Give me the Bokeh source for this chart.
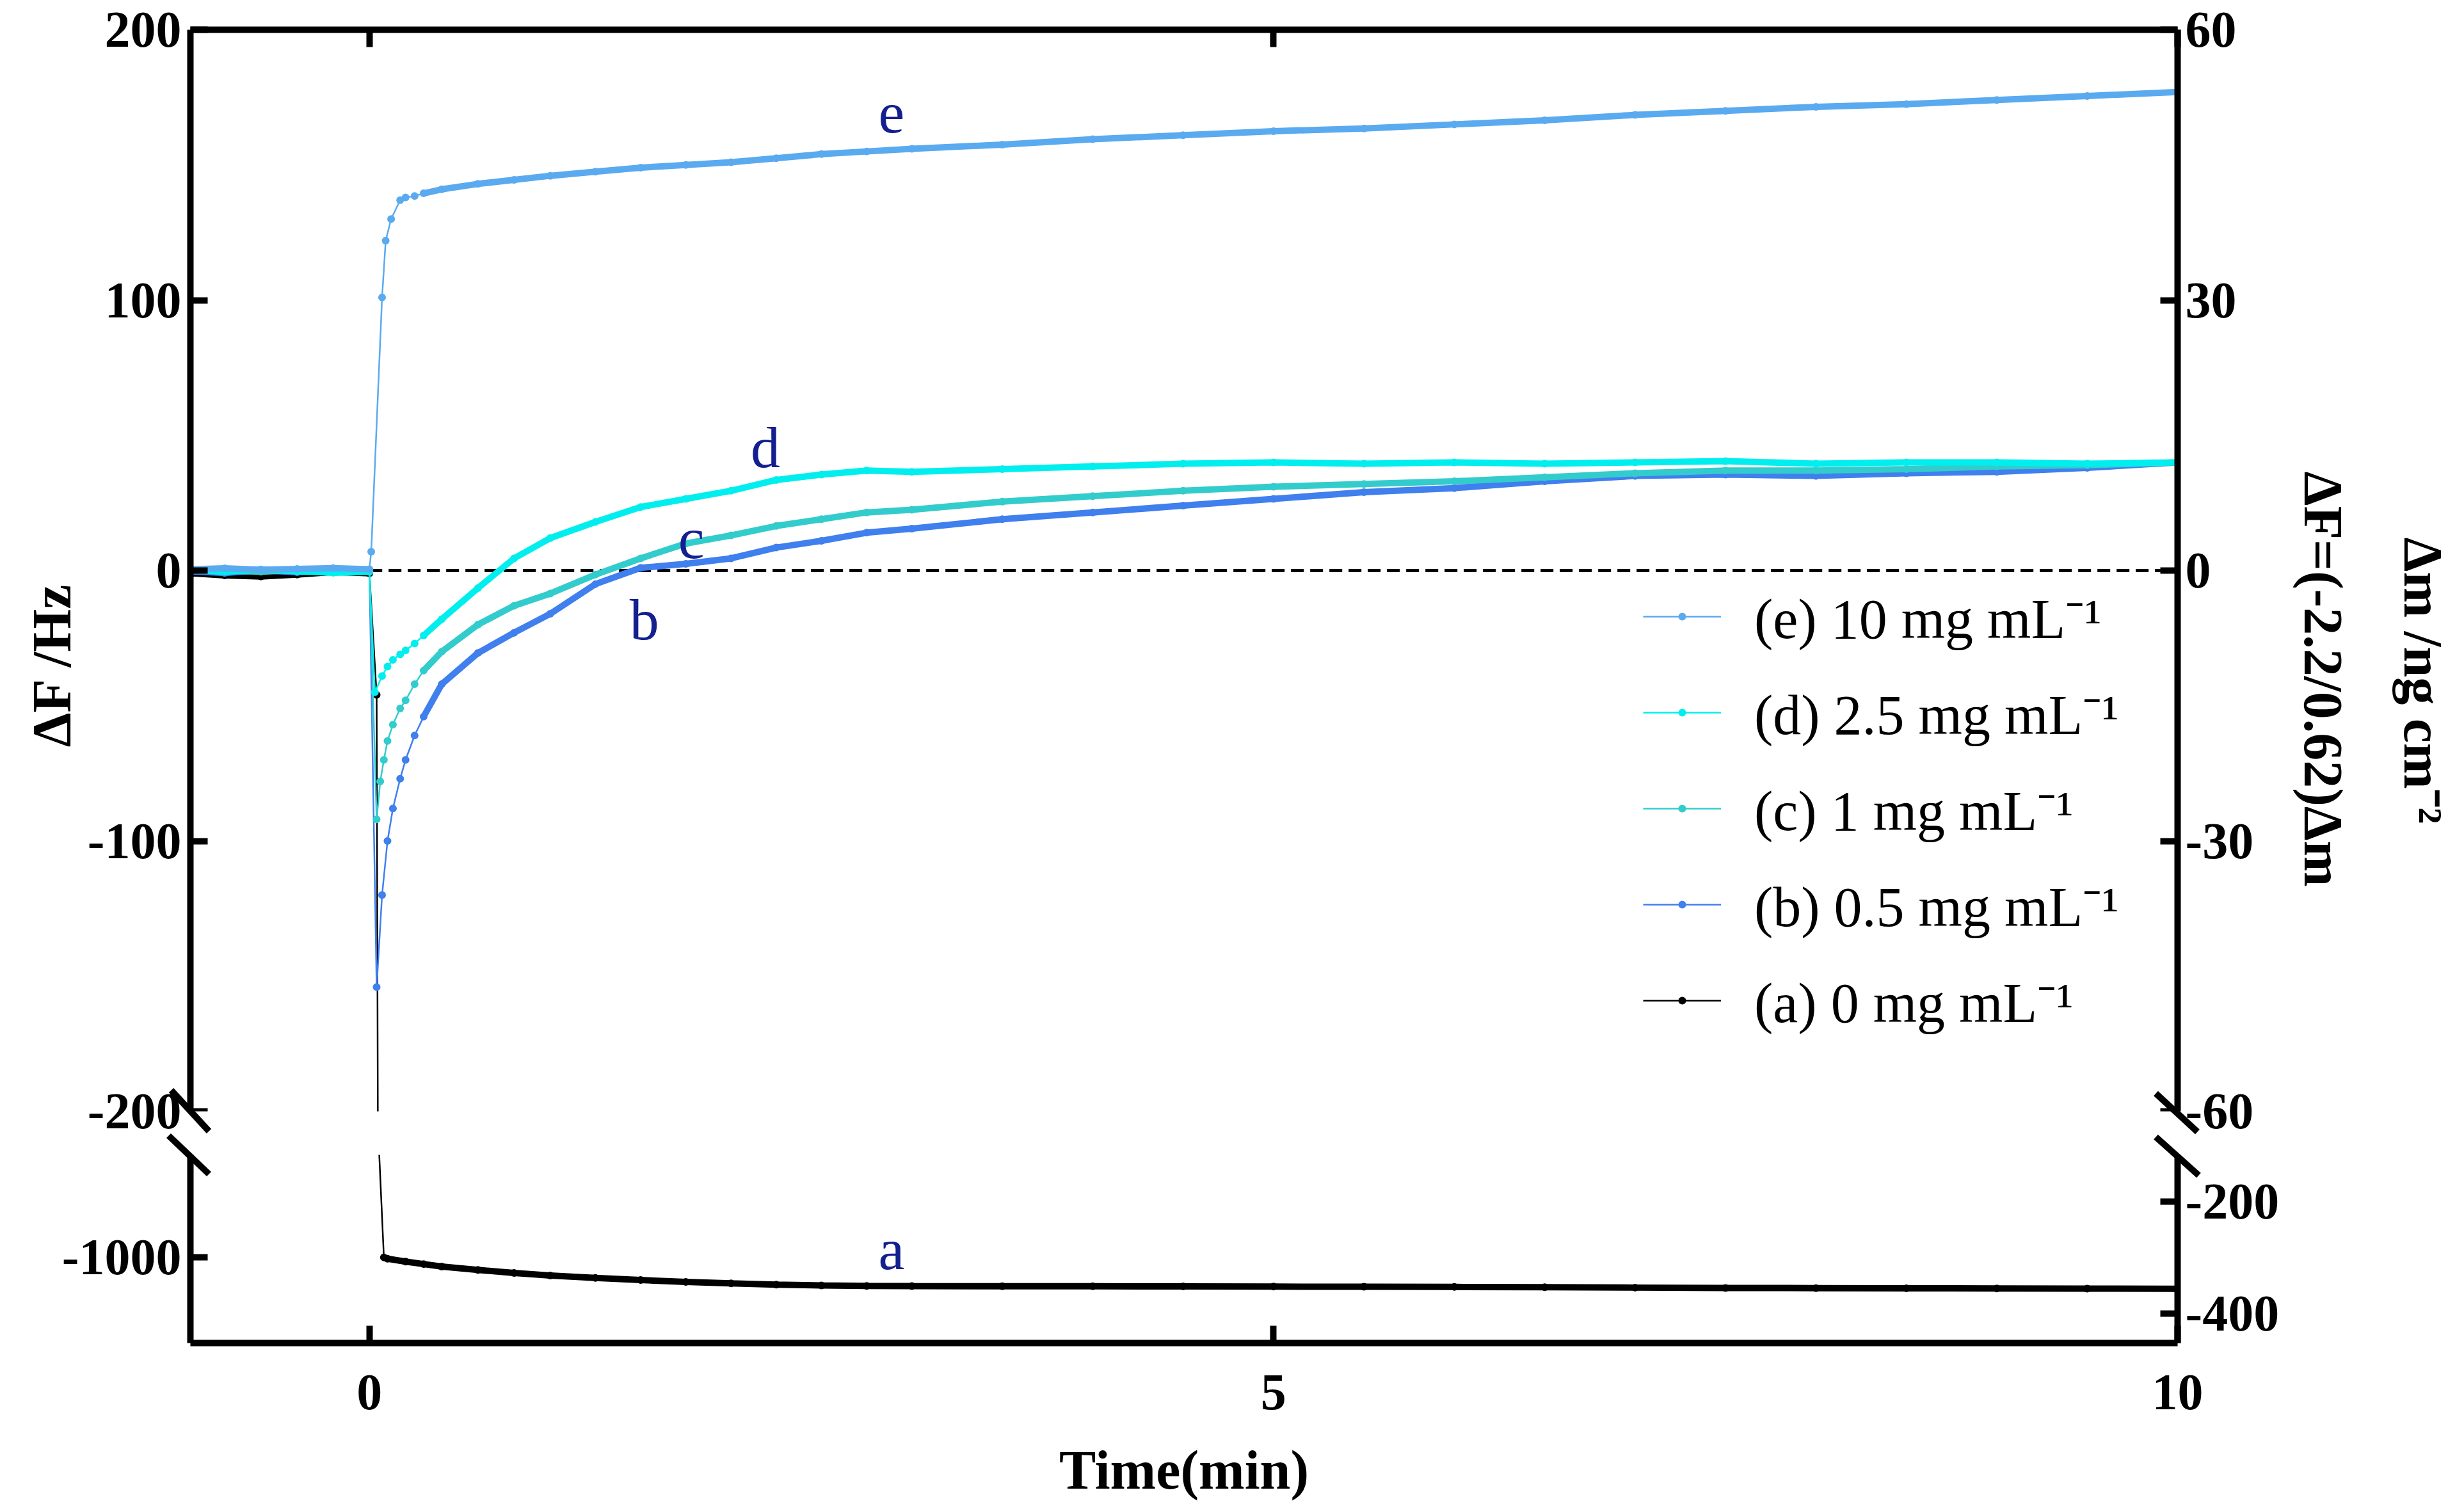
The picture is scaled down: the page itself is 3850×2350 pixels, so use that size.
import numpy as np
from bokeh.plotting import figure
from bokeh.models import (Range1d, LinearAxis, FixedTicker, Legend, LegendItem, Label,
                          Title, CustomJSTickFormatter, BoxAnnotation)
from bokeh.layouts import column
from bokeh.embed import file_html
from bokeh.resources import INLINE

# ---------------- data ----------------
t_base = [-0.98, -0.8, -0.6, -0.4, -0.2, 0.0]
t_late = [0.4, 0.6, 0.8, 1.0, 1.25, 1.5, 1.75, 2.0, 2.25, 2.5, 2.75, 3.0, 3.5,
          4.0, 4.5, 5.0, 5.5, 6.0, 6.5, 7.0, 7.5, 8.0, 8.5, 9.0, 9.5, 10.0]

e_base = [0.5, 0.8, 0.3, 0.6, 0.9, 0.5]
e_t_early = [0.01, 0.07, 0.09, 0.12, 0.17, 0.2, 0.25, 0.3]
e_early = [7, 101, 122, 130, 137, 138, 138.5, 139.5]
e_late = [141, 143, 144.5, 146, 147.5, 149, 150, 151, 152.5, 154, 155, 156, 157.5,
          159.5, 161, 162.5, 163.5, 165, 166.5, 168.5, 170, 171.5, 172.5, 174, 175.5, 177]

d_base = [0.2, -0.5, 0.4, -0.3, -0.8, -0.5]
d_t_early = [0.03, 0.07, 0.1, 0.13, 0.17, 0.2, 0.25, 0.3]
d_early = [-45, -39, -35.5, -33, -31, -29.5, -27, -24]
d_late = [-18, -6.5, 4.5, 12, 18, 23.5, 26.5, 29.5, 33.5, 35.5, 37, 36.5, 37.5,
          38.5, 39.5, 40, 39.5, 40, 39.5, 40, 40.5, 39.5, 40, 40, 39.5, 40]

c_base = [0.3, 0.0, -0.4, 0.2, -0.6, -0.2]
c_t_early = [0.04, 0.06, 0.08, 0.1, 0.13, 0.17, 0.2, 0.25, 0.3]
c_early = [-92, -78, -70, -63, -57, -51, -48, -42, -37]
c_late = [-30, -20, -13, -8.5, -1.5, 4.5, 10, 13, 16.5, 19, 21.5, 22.5, 25.5,
          27.5, 29.5, 31, 32, 33, 34.5, 36, 37, 37, 37.5, 38.5, 39, 40]

b_base = [-0.3, -0.9, 0.1, -0.6, 0.2, -0.4]
b_t_early = [0.04, 0.07, 0.1, 0.13, 0.17, 0.2, 0.25, 0.3]
b_early = [-154, -120, -100, -88, -77, -70, -61, -54]
b_late = [-42, -30.5, -23, -16, -5, 1, 2.5, 4.5, 8.5, 11, 14, 15.5, 19,
          21.5, 24, 26.5, 29, 30.5, 33, 35, 35.5, 35, 36, 36.5, 38, 40]

a_base = [-1.0, -1.8, -2.2, -1.5, -0.5, -1.0]
a_t_early = [0.04, 0.08, 0.1, 0.2, 0.3]
a_early = [-46, -1000, -1008, -1025, -1040]
a_late = [-1055, -1075, -1093, -1108, -1122, -1135, -1146, -1155, -1162, -1167, -1170, -1171, -1172,
          -1172, -1173, -1174, -1175, -1176, -1178, -1180, -1182, -1183, -1184, -1185, -1186, -1187]

series_keys = ["a", "b", "c", "d", "e"]
series_labels = {
    "e": "(e) 10 mg mL\u207b\u00b9",
    "d": "(d) 2.5 mg mL\u207b\u00b9",
    "c": "(c) 1 mg mL\u207b\u00b9",
    "b": "(b) 0.5 mg mL\u207b\u00b9",
    "a": "(a) 0 mg mL\u207b\u00b9",
}
series_data = {
    "a": (a_base, a_t_early, a_early, a_late),
    "b": (b_base, b_t_early, b_early, b_late),
    "c": (c_base, c_t_early, c_early, c_late),
    "d": (d_base, d_t_early, d_early, d_late),
    "e": (e_base, e_t_early, e_early, e_late),
}
x_ticks = [0, 5, 10]
left_ticks_up = [-200, -100, 0, 100, 200]
right_ticks_up = [-60, -30, 0, 30, 60]
left_ticks_low = [-1000]
right_ticks_low = [-200, -400]
mass_factor = 0.3          # right axis = 0.3 x left axis
zero_line = (0, 10)        # dashed reference line at dF = 0

# ---------------- styling / layout ----------------
colors = {"a": "#000000", "b": "#3F7FEE", "c": "#33CCCC", "d": "#00EEEE", "e": "#5AAAF0"}
thin_until = {"a": 0.08, "b": 0.3, "c": 0.3, "d": 0.3, "e": 0.3}
label_color = "#14208F"
FONT = "Liberation Serif"

PAGE_W = 3834
FRAME_W = 3105
UP_H = 1690
LOW_H = 294
GAP_H = 68
LEFT_B, TOP_B, BOTTOM_B = 297, 46, 236
RIGHT_B = PAGE_W - LEFT_B - FRAME_W

x_min, x_max = -0.99, 10.0
up_min, up_max = -200, 200
low_min, low_max = -1510, -390

px_min = FRAME_W / (x_max - x_min)
px_up = UP_H / (up_max - up_min)
px_low = LOW_H / (low_max - low_min)
up_ext = up_min - GAP_H / px_up          # upper frame continues through the break gap

# column-relative pixel geometry
AX_L = LEFT_B
AX_R = LEFT_B + FRAME_W
UP_BOTTOM = TOP_B + UP_H
LOW_TOP = UP_BOTTOM + GAP_H

xr = Range1d(x_min, x_max)


def style_axis(ax, standoff=14, overrides=None):
    ax.axis_line_width = 10
    ax.axis_line_color = "black"
    ax.major_tick_line_width = 10
    ax.major_tick_line_color = "black"
    ax.major_tick_in = 27
    ax.major_tick_out = 0
    ax.minor_tick_line_color = None
    ax.major_label_text_font = FONT
    ax.major_label_text_font_style = "bold"
    ax.major_label_text_font_size = "80px"
    ax.major_label_text_color = "black"
    ax.major_label_standoff = standoff
    if overrides:
        ax.major_label_overrides = {v: str(v) for v in overrides}


def base_fig(h, yr, top, bottom, xloc):
    p = figure(frame_width=FRAME_W, frame_height=h, x_range=xr, y_range=yr,
               min_border_left=LEFT_B, min_border_right=RIGHT_B,
               min_border_top=top, min_border_bottom=bottom,
               x_axis_location=xloc, output_backend="svg", toolbar_location=None)
    p.xgrid.visible = False
    p.ygrid.visible = False
    p.outline_line_color = None
    p.background_fill_color = "white"
    p.border_fill_color = "white"
    return p


def title(text, align, offset, standoff):
    return Title(text=text, align=align, offset=offset, standoff=standoff,
                 text_font=FONT, text_font_style="bold", text_font_size="86px",
                 text_color="black")


def to_p1(px, py):
    return x_min + (px - AX_L) / px_min, up_max - (py - TOP_B) / px_up


def to_p2(px, py):
    return x_min + (px - AX_L) / px_min, low_max - (py - LOW_TOP) / px_low


# ---------------- upper panel (frame runs through the gap, axis bounded) ----------------
p1 = base_fig(UP_H + GAP_H, Range1d(up_ext, up_max), TOP_B, 0, None)
p1.yaxis.ticker = FixedTicker(ticks=left_ticks_up)
p1.yaxis.bounds = (up_min, up_max)
style_axis(p1.yaxis[0], 14, left_ticks_up)
p1.extra_y_ranges = {"dm": Range1d(up_ext * mass_factor, up_max * mass_factor)}
r1 = LinearAxis(y_range_name="dm", ticker=FixedTicker(ticks=right_ticks_up),
                bounds=(up_min * mass_factor, up_max * mass_factor))
style_axis(r1, 12, right_ticks_up)
p1.add_layout(r1, "right")
top_ax = LinearAxis(ticker=FixedTicker(ticks=x_ticks),
                    formatter=CustomJSTickFormatter(code="return ''"))
style_axis(top_ax, 0)
p1.add_layout(top_ax, "above")

# axis titles, placed along the whole broken axis
p1.add_layout(title("\u0394F /Hz", "right", 864, 10), "left")
p1.add_layout(title("\u0394F=(-2.2/0.62)\u0394m", "left", 690, 115), "right")
p1.add_layout(title("\u0394m /ng cm\u207b\u00b2", "left", 793, 0), "right")

# blank out the break gap below -200
p1.add_layout(BoxAnnotation(top=up_min, fill_color="white", fill_alpha=1.0,
                            line_alpha=0, level="annotation"))

# ---------------- lower panel ----------------
p2 = base_fig(LOW_H, Range1d(low_min, low_max), 0, BOTTOM_B, "below")
p2.yaxis.ticker = FixedTicker(ticks=left_ticks_low)
style_axis(p2.yaxis[0], 14, left_ticks_low)
p2.xaxis.ticker = FixedTicker(ticks=x_ticks)
style_axis(p2.xaxis[0], 50)
p2.xaxis.axis_label = "Time(min)"
p2.xaxis.axis_label_text_font = FONT
p2.xaxis.axis_label_text_font_style = "bold"
p2.xaxis.axis_label_text_font_size = "86px"
p2.xaxis.axis_label_text_color = "black"
p2.xaxis.axis_label_standoff = 44
p2.extra_y_ranges = {"dm": Range1d(low_min * mass_factor, low_max * mass_factor)}
r2 = LinearAxis(y_range_name="dm", ticker=FixedTicker(ticks=right_ticks_low))
style_axis(r2, 12, right_ticks_low)
p2.add_layout(r2, "right")

# dashed zero line
p1.segment(x0=[zero_line[0]], y0=[0], x1=[zero_line[1]], y1=[0],
           line_color="black", line_width=5, line_dash="20 10")

# ---------------- curves ----------------
legend_refs = {}
for k in series_keys:
    base, t_e, y_e, late = series_data[k]
    t = np.array(t_base + t_e + t_late, dtype=float)
    y = np.array(base + y_e + late, dtype=float)
    thr = thin_until[k]
    thin = np.where((t >= 0) & (t <= thr), y, np.nan)
    thick = np.where((t <= 0) | (t >= thr), y, np.nan)
    col = colors[k]
    figs = [p1, p2] if k == "a" else [p1]
    for p in figs:
        p.line(t, thick, line_color=col, line_width=10)
        lt = p.line(t, thin, line_color=col, line_width=2.5)
        sc = p.scatter(t, y, marker="dot", size=48, line_color=col, fill_color=col)
        if p is p1:
            legend_refs[k] = [lt, sc]

items = [LegendItem(label=series_labels[k], renderers=legend_refs[k]) for k in ["e", "d", "c", "b", "a"]]
legend = Legend(items=items, location=(2270, 113 + GAP_H), label_text_font=FONT,
                label_text_font_size="88px", label_text_color="black",
                glyph_width=122, glyph_height=120, label_height=120, label_standoff=52,
                spacing=30, padding=0, margin=0, border_line_color=None,
                background_fill_alpha=0)
p1.add_layout(legend)

# ---------------- curve letters ----------------
letter_pos = {"e": (2.887, 169, p1), "d": (2.19, 45.6, p1), "c": (1.78, 12, p1),
              "b": (1.52, -18, p1), "a": (2.887, -950, p2)}
for k, (lx, ly, p) in letter_pos.items():
    p.add_layout(Label(x=lx, y=ly, text=k, text_font=FONT, text_font_size="92px",
                       text_color=label_color, text_align="center", text_baseline="middle"))

# ---------------- axis-break slashes (pixel offsets from the axis ends) ----------------
slashes = [  # (axis x, edge y, dx0, dy0, dx1, dy1)
    (AX_L, UP_BOTTOM, -30, -33, 29, 31),
    (AX_L, LOW_TOP, -34, -30, 29, 30),
    (AX_R, UP_BOTTOM, -34, -28, 31, 32),
    (AX_R, LOW_TOP, -34, -28, 33, 32),
]

for ax_x, ax_y, dx0, dy0, dx1, dy1 in slashes:
    a0 = (ax_x + dx0, ax_y + dy0)
    a1 = (ax_x + dx1, ax_y + dy1)
    for p, conv in [(p1, to_p1), (p2, to_p2)]:
        (x0, y0), (x1, y1) = conv(*a0), conv(*a1)
        p.segment(x0=[x0], y0=[y0], x1=[x1], y1=[y1], line_color="black",
                  line_width=10, level="overlay")

layout = column(p1, p2, spacing=0)
open("out.html", "w").write(file_html(layout, INLINE))
